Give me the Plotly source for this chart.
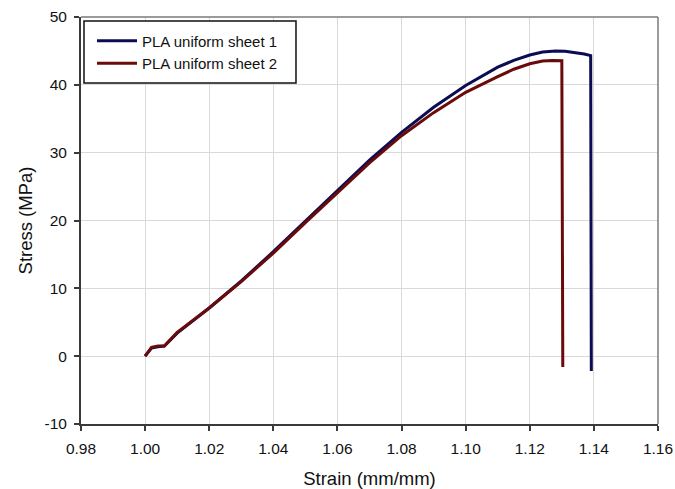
import plotly.graph_objects as go

# Sheet 1 (navy)
strain_1 = [1.000, 1.001, 1.002, 1.004, 1.006, 1.010, 1.015, 1.020, 1.030, 1.040,
            1.050, 1.060, 1.070, 1.080, 1.090, 1.100, 1.105, 1.110, 1.115, 1.120,
            1.124, 1.128, 1.131, 1.134, 1.137, 1.139, 1.1392]
stress_1 = [0.0, 0.6, 1.2, 1.4, 1.5, 3.4, 5.2, 7.1, 11.1, 15.4,
            19.9, 24.4, 28.9, 33.0, 36.7, 39.9, 41.3, 42.6, 43.6, 44.4,
            44.85, 45.0, 44.95, 44.8, 44.55, 44.3, -2.2]

# Sheet 2 (maroon)
strain_2 = [1.000, 1.001, 1.002, 1.004, 1.006, 1.010, 1.015, 1.020, 1.030, 1.040,
            1.050, 1.060, 1.070, 1.080, 1.090, 1.100, 1.105, 1.110, 1.115, 1.120,
            1.124, 1.127, 1.1300, 1.1303]
stress_2 = [0.0, 0.7, 1.3, 1.5, 1.5, 3.5, 5.3, 7.1, 11.0, 15.2,
            19.7, 24.1, 28.5, 32.5, 35.9, 38.9, 40.1, 41.2, 42.3, 43.1,
            43.5, 43.6, 43.55, -1.6]

series_names = ["PLA uniform sheet 1", "PLA uniform sheet 2"]
x_ticks = [0.98, 1.00, 1.02, 1.04, 1.06, 1.08, 1.10, 1.12, 1.14, 1.16]
y_ticks = [-10, 0, 10, 20, 30, 40, 50]
y_tick_labels = ["-10", "0", "10", "20", "30", "40", "50"]

FONT = "Arial, 'Liberation Sans', sans-serif"

fig = go.Figure()
fig.add_trace(go.Scatter(x=strain_1, y=stress_1, mode="lines", name=series_names[0],
                         line=dict(color="#0c0c52", width=3)))
fig.add_trace(go.Scatter(x=strain_2, y=stress_2, mode="lines", name=series_names[1],
                         line=dict(color="#6a0a0a", width=3)))

axis_common = dict(showgrid=True, gridcolor="#d9d9d9", gridwidth=1, zeroline=False,
                   showline=True, linecolor="#3a3a3a", linewidth=2,
                   ticks="outside", ticklen=5, tickwidth=1.5, tickcolor="#3a3a3a",
                   ticklabelstandoff=4, automargin=False, ticklabeloverflow="allow",
                   tickfont=dict(family=FONT, size=15.5, color="#111"))

fig.update_xaxes(range=[0.98, 1.16], tickvals=x_ticks, tickformat=".2f",
                 title=dict(text="Strain (mm/mm)", font=dict(family=FONT, size=18.5, color="#111"),
                            standoff=16),
                 **axis_common)
fig.update_yaxes(range=[-10, 50], tickvals=y_ticks, ticktext=y_tick_labels,
                 title=dict(text="Stress (MPa)", font=dict(family=FONT, size=18.5, color="#111"),
                            standoff=7),
                 **axis_common)

# top and right frame lines (lighter grey)
fig.add_shape(type="line", xref="paper", yref="paper", x0=0, x1=1, y0=1, y1=1,
              line=dict(color="#7a7a7a", width=1.5))
fig.add_shape(type="line", xref="paper", yref="paper", x0=1, x1=1, y0=0, y1=1,
              line=dict(color="#7a7a7a", width=1.5))
# legend frame
fig.add_shape(type="rect", xref="paper", yref="paper", x0=0.0052, x1=0.3726,
              y0=0.8378, y1=0.9902, fillcolor="white",
              line=dict(color="#111", width=1.5), layer="above")

fig.update_layout(
    width=675, height=489,
    margin=dict(l=81, r=17, t=17, b=65),
    paper_bgcolor="white", plot_bgcolor="white",
    font=dict(family=FONT, color="#111"),
    legend=dict(x=0.0191, y=0.9816, xanchor="left", yanchor="top",
                bgcolor="rgba(0,0,0,0)", borderwidth=0,
                font=dict(family=FONT, size=15, color="#111"),
                itemwidth=40, tracegroupgap=0),
    showlegend=True,
)

fig.write_html("out.html", config={"displayModeBar": False},
               post_script="document.body.style.margin='0';document.body.style.overflow='hidden';")
